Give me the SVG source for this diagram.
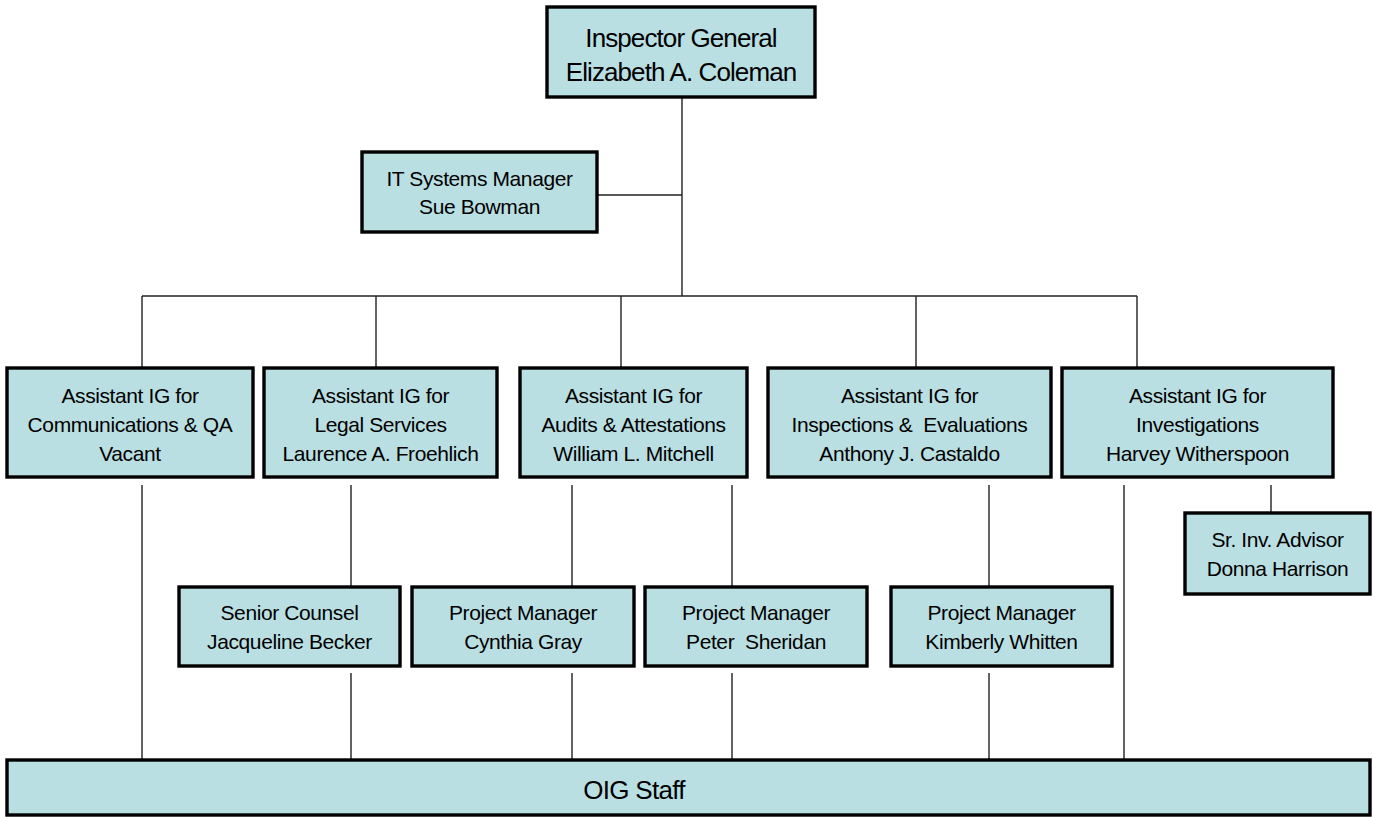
<svg xmlns="http://www.w3.org/2000/svg" width="1373" height="817" viewBox="0 0 1373 817">
<style>
.box{fill:#B9DFE2;stroke:#000;stroke-width:3.4}
.t{font-family:"Liberation Sans",Arial,sans-serif;font-size:21px;letter-spacing:-0.4px;fill:#000;text-anchor:middle}
.big{font-size:26px;letter-spacing:-0.9px}
.c{stroke:#222;stroke-width:1.4;fill:none}
</style>
<rect width="1373" height="817" fill="#fff"/>
<g id="connectors" class="c">
<path d="M682 97V296M597 195H682M142 296H1137M142 296V368M376 296V368M621 296V368M916 296V368M1137 296V368"/>
<path d="M142 485V760M351 485V587M572 485V587M732 485V587M989 485V587M1124 485V760M1271 485V513"/>
<path d="M351 673V760M572 673V760M732 673V760M989 673V760"/>
</g>
<g id="inspector-general">
<rect class="box" x="547" y="7" width="268" height="90"/>
<text class="t big" x="681" y="47">Inspector General</text>
<text class="t big" x="681" y="81">Elizabeth A. Coleman</text>
</g>
<g id="it-systems">
<rect class="box" x="362" y="152" width="235" height="80"/>
<text class="t" x="479.5" y="186">IT Systems Manager</text>
<text class="t" x="479.5" y="214">Sue Bowman</text>
</g>
<g id="aig-comm">
<rect class="box" x="7" y="368" width="246" height="109"/>
<text class="t" x="130" y="403">Assistant IG for</text>
<text class="t" x="130" y="432">Communications &amp; QA</text>
<text class="t" x="130" y="461">Vacant</text>
</g>
<g id="aig-legal">
<rect class="box" x="264" y="368" width="233" height="109"/>
<text class="t" x="380.5" y="403">Assistant IG for</text>
<text class="t" x="380.5" y="432">Legal Services</text>
<text class="t" x="380.5" y="461">Laurence A. Froehlich</text>
</g>
<g id="aig-audits">
<rect class="box" x="520" y="368" width="227" height="109"/>
<text class="t" x="633.5" y="403">Assistant IG for</text>
<text class="t" x="633.5" y="432">Audits &amp; Attestations</text>
<text class="t" x="633.5" y="461">William L. Mitchell</text>
</g>
<g id="aig-inspections">
<rect class="box" x="768" y="368" width="283" height="109"/>
<text class="t" x="909.5" y="403">Assistant IG for</text>
<text class="t" x="909.5" y="432" xml:space="preserve">Inspections &amp;  Evaluations</text>
<text class="t" x="909.5" y="461">Anthony J. Castaldo</text>
</g>
<g id="aig-investigations">
<rect class="box" x="1062" y="368" width="271" height="109"/>
<text class="t" x="1197.5" y="403">Assistant IG for</text>
<text class="t" x="1197.5" y="432">Investigations</text>
<text class="t" x="1197.5" y="461">Harvey Witherspoon</text>
</g>
<g id="sr-inv-advisor">
<rect class="box" x="1185" y="513" width="185" height="81"/>
<text class="t" x="1277.5" y="547">Sr. Inv. Advisor</text>
<text class="t" x="1277.5" y="576">Donna Harrison</text>
</g>
<g id="senior-counsel">
<rect class="box" x="179" y="587" width="221" height="79"/>
<text class="t" x="289.5" y="620">Senior Counsel</text>
<text class="t" x="289.5" y="649">Jacqueline Becker</text>
</g>
<g id="pm-gray">
<rect class="box" x="412" y="587" width="222" height="79"/>
<text class="t" x="523" y="620">Project Manager</text>
<text class="t" x="523" y="649">Cynthia Gray</text>
</g>
<g id="pm-sheridan">
<rect class="box" x="645" y="587" width="222" height="79"/>
<text class="t" x="756" y="620">Project Manager</text>
<text class="t" x="756" y="649" xml:space="preserve">Peter  Sheridan</text>
</g>
<g id="pm-whitten">
<rect class="box" x="891" y="587" width="221" height="79"/>
<text class="t" x="1001.5" y="620">Project Manager</text>
<text class="t" x="1001.5" y="649">Kimberly Whitten</text>
</g>
<g id="oig-staff">
<rect class="box" x="7" y="760" width="1363" height="55"/>
<text class="t big" x="634" y="799" style="letter-spacing:-0.7px">OIG Staff</text>
</g>
</svg>
